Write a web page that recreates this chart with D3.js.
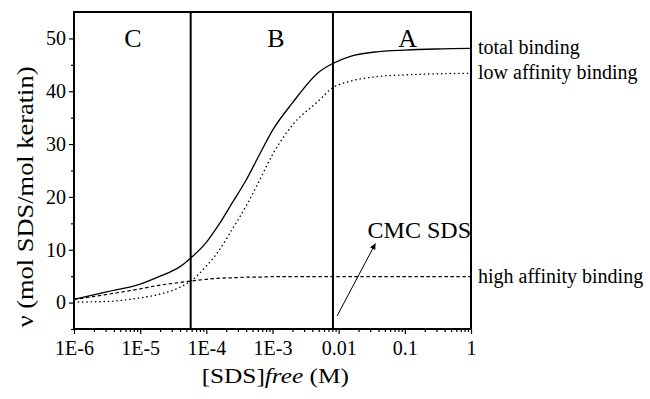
<!DOCTYPE html>
<html>
<head>
<meta charset="utf-8">
<script src="https://cdn.jsdelivr.net/npm/d3@7"></script>
<style>
    body { margin: 0; background: #fff; }
</style>
</head>
<body>
<div id="chart"></div>
<script>
// free SDS concentration (M)
const concentration = [1e-6, 3e-6, 1e-5, 2e-5, 4e-5, 6e-5, 1e-4, 1.5e-4, 2.5e-4, 4e-4, 6e-4, 1e-3, 2e-3, 5e-3, 8e-3, 0.015, 0.04, 0.1, 0.3, 1];
const totalBinding = [0.6, 2.0, 3.5, 5.0, 6.8, 8.6, 11.4, 14.5, 19.0, 23.2, 27.4, 32.6, 37.8, 43.6, 45.2, 46.6, 47.5, 47.8, 48.0, 48.1];
const lowAffinity = [0.1, 0.2, 0.9, 1.6, 2.9, 4.2, 6.9, 9.6, 14.0, 18.3, 22.5, 28.0, 33.6, 38.2, 40.6, 41.9, 42.8, 43.1, 43.3, 43.4];
const highAffinity = [0.6, 1.5, 2.6, 3.3, 3.8, 4.1, 4.4, 4.6, 4.7, 4.8, 4.8, 4.9, 4.9, 4.9, 4.9, 4.9, 4.9, 4.9, 4.9, 4.9];

const xTicks = [1e-6, 1e-5, 1e-4, 1e-3, 0.01, 0.1, 1];
const xTickLabels = ['1E-6', '1E-5', '1E-4', '1E-3', '0.01', '0.1', '1'];
const yTicks = [0, 10, 20, 30, 40, 50];
const regionBounds = [5.8e-5, 8.2e-3];
const regionLabels = ['C', 'B', 'A'];
const regionCenters = [7.8e-6, 1.13e-3, 0.11];

const FONT = '"Liberation Serif", "Times New Roman", Times, serif';
const width = 650, height = 399;
const margin = { top: 12, right: 179, bottom: 70, left: 74 };
const innerW = width - margin.left - margin.right;
const innerH = height - margin.top - margin.bottom;

const svg = d3.select('#chart').append('svg')
    .attr('width', width)
    .attr('height', height)
    .attr('font-family', FONT);

const g = svg.append('g')
    .attr('transform', 'translate(' + margin.left + ',' + margin.top + ')');

const xScale = d3.scaleLog().domain([1e-6, 1]).range([0, innerW]);
const yScale = d3.scaleLinear().domain([-5, 55]).range([innerH, 0]);

// minor ticks
const xMinor = [];
xTicks.slice(0, -1).forEach(function (t) {
    for (let k = 2; k <= 9; k++) xMinor.push(t * k);
});
const yMinor = d3.range(-5, 55, 10);

g.append('g')
    .attr('transform', 'translate(0,' + innerH + ')')
    .call(d3.axisBottom(xScale).tickValues(xMinor).tickSize(3).tickFormat(''))
    .call(a => a.select('.domain').remove());

g.append('g')
    .call(d3.axisLeft(yScale).tickValues(yMinor).tickSize(3).tickFormat(''))
    .call(a => a.select('.domain').remove());

const xAxis = g.append('g')
    .attr('transform', 'translate(0,' + innerH + ')')
    .call(d3.axisBottom(xScale).tickValues(xTicks).tickSize(5).tickPadding(7)
        .tickFormat((d, i) => xTickLabels[i]));
xAxis.select('.domain').remove();

const yAxis = g.append('g')
    .call(d3.axisLeft(yScale).tickValues(yTicks).tickSize(5).tickPadding(3));
yAxis.select('.domain').remove();

// d3 axes put font-family="sans-serif" on their group, so override it
g.selectAll('.tick line').attr('stroke', '#000').attr('stroke-width', 1.2);
g.selectAll('.tick text')
    .attr('font-family', FONT)
    .attr('font-size', 20)
    .attr('fill', '#000');

// frame
g.append('rect')
    .attr('width', innerW)
    .attr('height', innerH)
    .attr('fill', 'none')
    .attr('stroke', '#000')
    .attr('stroke-width', 2);

// region boundaries
g.selectAll('.bound')
    .data(regionBounds)
    .enter()
    .append('line')
    .attr('x1', d => xScale(d))
    .attr('x2', d => xScale(d))
    .attr('y1', 0)
    .attr('y2', innerH)
    .attr('stroke', '#000')
    .attr('stroke-width', 2);

g.selectAll('.region')
    .data(regionLabels)
    .enter()
    .append('text')
    .attr('x', (d, i) => xScale(regionCenters[i]))
    .attr('y', 35)
    .attr('text-anchor', 'middle')
    .attr('font-size', 26)
    .text(d => d);

const line = d3.line()
    .x((d, i) => xScale(concentration[i]))
    .y(d => yScale(d))
    .curve(d3.curveMonotoneX);

g.append('path')
    .attr('d', line(totalBinding))
    .attr('fill', 'none')
    .attr('stroke', '#000')
    .attr('stroke-width', 1.3);

g.append('path')
    .attr('d', line(lowAffinity))
    .attr('fill', 'none')
    .attr('stroke', '#000')
    .attr('stroke-width', 1.4)
    .attr('stroke-linecap', 'round')
    .attr('stroke-dasharray', '0.3,4');

g.append('path')
    .attr('d', line(highAffinity))
    .attr('fill', 'none')
    .attr('stroke', '#000')
    .attr('stroke-width', 1.2)
    .attr('stroke-dasharray', '3.5,2.5');

// series labels at right
const seriesLabels = [
    { text: 'total binding', v: totalBinding[totalBinding.length - 1] },
    { text: 'low affinity binding', v: lowAffinity[lowAffinity.length - 1] },
    { text: 'high affinity binding', v: highAffinity[highAffinity.length - 1] }
];
g.selectAll('.slabel')
    .data(seriesLabels)
    .enter()
    .append('text')
    .attr('x', innerW + 7)
    .attr('y', d => yScale(d.v) + 6)
    .attr('font-size', 20)
    .text(d => d.text);

// CMC annotation
svg.append('defs').append('marker')
    .attr('id', 'arrow')
    .attr('viewBox', '0 0 10 10')
    .attr('refX', 10).attr('refY', 5)
    .attr('markerWidth', 8).attr('markerHeight', 6)
    .attr('markerUnits', 'userSpaceOnUse')
    .attr('orient', 'auto')
    .append('path')
    .attr('d', 'M0,0L10,5L0,10z')
    .attr('fill', '#000');

g.append('line')
    .attr('x1', xScale(9.5e-3))
    .attr('y1', yScale(-2.5))
    .attr('x2', xScale(3.6e-2))
    .attr('y2', yScale(11.2))
    .attr('stroke', '#000')
    .attr('stroke-width', 1)
    .attr('marker-end', 'url(#arrow)');

g.append('text')
    .attr('x', innerW)
    .attr('y', yScale(12.3))
    .attr('text-anchor', 'end')
    .attr('font-size', 24)
    .text('CMC SDS');

// axis titles (the original lettering runs a bit wide, hence the stretch)
svg.append('text')
    .attr('transform', 'translate(33,' + (margin.top + yScale(20)) + ') rotate(-90) scale(1.15,1)')
    .attr('text-anchor', 'middle')
    .attr('font-size', 23)
    .text('ν (mol SDS/mol keratin)');

const xt = svg.append('text')
    .attr('transform', 'translate(' + (margin.left + xScale(1.1e-3)) + ',383) scale(1.15,1)')
    .attr('text-anchor', 'middle')
    .attr('font-size', 22);
xt.append('tspan').text('[SDS]');
xt.append('tspan').attr('font-style', 'italic').text('free');
xt.append('tspan').text(' (M)');
</script>
</body>
</html>
